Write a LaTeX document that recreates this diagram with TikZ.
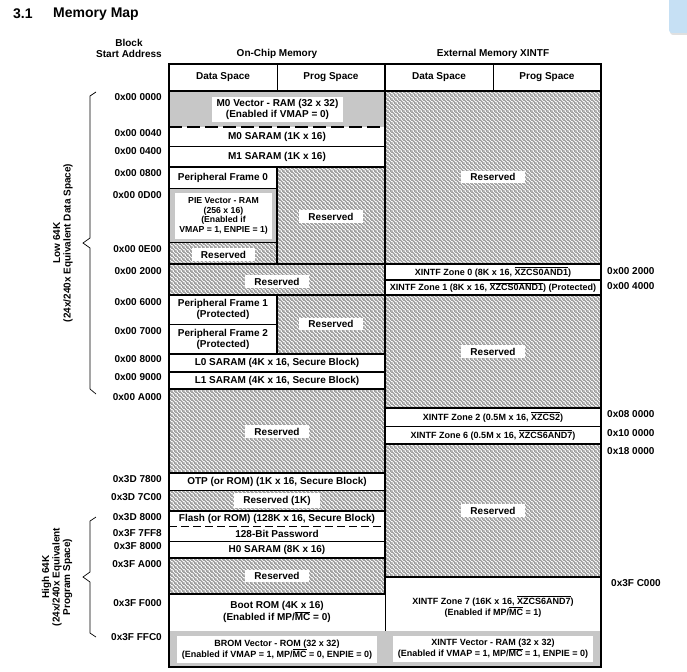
\documentclass[tikz,border=0pt]{standalone}
\usepackage{fontspec}
\setmainfont{Liberation Sans}
\usetikzlibrary{patterns}
\pgfdeclarepatternformonly{myhatch}{\pgfqpoint{0pt}{0pt}}{\pgfqpoint{4pt}{4pt}}{\pgfqpoint{4pt}{4pt}}{%
  \pgfsetlinewidth{1.4pt}%
  \pgfpathmoveto{\pgfqpoint{-1pt}{5pt}}\pgfpathlineto{\pgfqpoint{5pt}{-1pt}}%
  \pgfpathmoveto{\pgfqpoint{-1pt}{1pt}}\pgfpathlineto{\pgfqpoint{1pt}{-1pt}}%
  \pgfpathmoveto{\pgfqpoint{3pt}{5pt}}\pgfpathlineto{\pgfqpoint{5pt}{3pt}}%
  \pgfusepath{stroke}}
\newcommand\fa{\fontsize{10}{10.8}\selectfont\bfseries}
\newcommand\fb{\fontsize{8.7}{9.7}\selectfont\bfseries}
\newcommand\fc{\fontsize{9}{10.7}\selectfont\bfseries}
\newcommand\ftitle{\fontsize{14}{16}\selectfont\bfseries}
\newcommand\ovl[1]{$\overline{\hbox{#1}}$}
\definecolor{lblue}{HTML}{C6E0F4}
\begin{document}
\begin{tikzpicture}[x=1pt,y=-1pt,
  every node/.style={inner sep=0pt, font=\fa, align=center},
  hatch/.style={pattern=myhatch, pattern color=black!40},
  gfill/.style={fill=black!22},
  thk/.style={line width=1.5pt},
  thn/.style={line width=0.8pt},
  lbl/.style={fill=white, inner xsep=9pt, inner ysep=2.5pt},
  addr/.style={anchor=east},
  raddr/.style={anchor=west},
  brace/.style={line width=0.7pt},
  dsha/.style={line width=1.2pt, dash pattern=on 13pt off 5pt},
  dshb/.style={line width=1pt, dash pattern=on 8pt off 4pt}
]
\useasboundingbox (0,0) rectangle (687,671);
% corner tab
\fill[black!12, rounded corners=3pt] (670,-6) rectangle (692,35);
\fill[lblue, rounded corners=3pt] (669,-6) rectangle (692,33);
% title
\node[anchor=west, font=\ftitle] (num) at (13,14) {3.1};
\node[anchor=west, font=\ftitle] (ttl) at (53,14) {Memory Map};
% headings
\node (blk) at (129,48.5) {Block\\Start Address};
\node (onchip) at (277,54) {On-Chip Memory};
\node (ext) at (493,54) {External Memory XINTF};
\node (ds1) at (223,77.5) {Data Space};
\node (ps1) at (331,77.5) {Prog Space};
\node (ds2) at (439,77.5) {Data Space};
\node (ps2) at (547,77.5) {Prog Space};
% fills
\fill[gfill] (169,91) rectangle (385,127);
\path[hatch] (385,91) rectangle (601,264);
\fill[gfill] (169,188) rectangle (277,242);
\path[hatch] (169,242) rectangle (277,264);
\path[hatch] (277,167) rectangle (385,264);
\path[hatch] (169,264) rectangle (385,295);
\path[hatch] (277,295) rectangle (385,354);
\path[hatch] (385,295) rectangle (601,408);
\path[hatch] (169,389) rectangle (385,473);
\path[hatch] (385,444) rectangle (601,577);
\path[hatch] (169,490) rectangle (385,511);
\path[hatch] (169,558) rectangle (385,594);
\fill[gfill] (169,631) rectangle (601,667);
% lines
\draw[thk] (169,91) -- (601,91);
\draw[thn] (277,64) -- (277,91);
\draw[thn] (493,64) -- (493,91);
\draw[thk] (385,64) -- (385,594);
\draw[thn] (385,594) -- (385,631);
\draw[dsha] (169,127) -- (385,127);
\draw[thn] (169,146) -- (385,146);
\draw[thk] (169,167) -- (385,167);
\draw[thn] (169,188) -- (277,188);
\draw[thn] (169,242) -- (277,242);
\draw[thk] (277,167) -- (277,264);
\draw[thk] (169,264) -- (601,264);
\draw[thk] (169,295) -- (601,295);
\draw[thk] (277,295) -- (277,354);
\draw[thn] (169,324) -- (277,324);
\draw[thk] (169,354) -- (385,354);
\draw[thk] (169,372) -- (385,372);
\draw[thk] (169,389) -- (385,389);
\draw[thk] (169,473) -- (385,473);
\draw[thn] (169,490) -- (385,490);
\draw[thk] (169,511) -- (385,511);
\draw[dshb] (169,526) -- (385,526);
\draw[thn] (169,541) -- (385,541);
\draw[thk] (169,558) -- (385,558);
\draw[thk] (169,594) -- (385,594);
\draw[thk] (385,280) -- (601,280);
\draw[thk] (385,408) -- (601,408);
\draw[thn] (385,426) -- (601,426);
\draw[thk] (385,444) -- (601,444);
\draw[thk] (385,577) -- (601,577);
\draw[line width=2pt] (169,64) rectangle (601,667);
% on-chip texts
\node[fill=white, minimum width=131pt, minimum height=25pt] (m0v) at (277.5,109.5) {M0 Vector - RAM (32 x 32)\\(Enabled if VMAP = 0)};
\node (m0) at (277,136.5) {M0 SARAM (1K x 16)};
\node (m1) at (277,156.5) {M1 SARAM (1K x 16)};
\node (pf0) at (223,177.5) {Peripheral Frame 0};
\node[fill=white, minimum width=97pt, minimum height=46pt, font=\fb] (pie) at (223.5,216) {PIE Vector - RAM\\(256 x 16)\\(Enabled if\\VMAP = 1, ENPIE = 1)};
\node[lbl] (r1) at (223.5,254.5) {Reserved};
\node[lbl] (r2) at (331,216.5) {Reserved};
\node[lbl] (r3) at (277,281.5) {Reserved};
\node (pf1) at (223,309.7) {Peripheral Frame 1\\(Protected)};
\node (pf2) at (223,339.5) {Peripheral Frame 2\\(Protected)};
\node[lbl] (r4) at (331,324) {Reserved};
\node (l0) at (277,363) {L0 SARAM (4K x 16, Secure Block)};
\node (l1) at (277,380.5) {L1 SARAM (4K x 16, Secure Block)};
\node[lbl] (r5) at (277,431.5) {Reserved};
\node (otp) at (277,482) {OTP (or ROM) (1K x 16, Secure Block)};
\node[lbl] (r6) at (277,500.5) {Reserved (1K)};
\node (fl) at (277,518.5) {Flash (or ROM) (128K x 16, Secure Block)};
\node (pw) at (277,533.5) {128-Bit Password};
\node (h0) at (277,549.5) {H0 SARAM (8K x 16)};
\node[lbl] (r7) at (277,576) {Reserved};
\node (boot) at (277,612) {Boot ROM (4K x 16)\\(Enabled if MP/\ovl{MC} = 0)};
\node[fill=white, minimum width=200pt, minimum height=27pt, font=\fc] (brom) at (277,649.5) {BROM Vector - ROM (32 x 32)\\(Enabled if VMAP = 1, MP/\ovl{MC} = 0, ENPIE = 0)};
% external texts
\node[lbl] (x1) at (493,177) {Reserved};
\node[font=\fc] (z0) at (493,272) {XINTF Zone 0 (8K x 16, \ovl{XZCS0AND1})};
\node[font=\fc] (z1) at (493,287.5) {XINTF Zone 1 (8K x 16, \ovl{XZCS0AND1}) (Protected)};
\node[lbl] (x2) at (493,351.5) {Reserved};
\node[font=\fc] (z2) at (493,417) {XINTF Zone 2 (0.5M x 16, \ovl{XZCS2})};
\node[font=\fc] (z6) at (493,435) {XINTF Zone 6 (0.5M x 16, \ovl{XZCS6AND7})};
\node[lbl] (x3) at (493,510.5) {Reserved};
\node[font=\fc] (z7) at (493,606.5) {XINTF Zone 7 (16K x 16, \ovl{XZCS6AND7})\\(Enabled if MP/\ovl{MC} = 1)};
\node[fill=white, minimum width=200pt, minimum height=26pt, font=\fc] (xv) at (493,649) {XINTF Vector - RAM (32 x 32)\\(Enabled if VMAP = 1, MP/\ovl{MC} = 1, ENPIE = 0)};
% left addresses
\node[addr] (a1) at (162,97) {0x00 0000};
\node[addr] (a2) at (162,133) {0x00 0040};
\node[addr] (a3) at (162,151) {0x00 0400};
\node[addr] (a4) at (162,173) {0x00 0800};
\node[addr] (a5) at (162,195) {0x00 0D00};
\node[addr] (a6) at (162,249) {0x00 0E00};
\node[addr] (a7) at (162,271) {0x00 2000};
\node[addr] (a8) at (162,302) {0x00 6000};
\node[addr] (a9) at (162,331) {0x00 7000};
\node[addr] (a10) at (162,359) {0x00 8000};
\node[addr] (a11) at (162,377) {0x00 9000};
\node[addr] (a12) at (162,397) {0x00 A000};
\node[addr] (a13) at (162,479) {0x3D 7800};
\node[addr] (a14) at (162,497) {0x3D 7C00};
\node[addr] (a15) at (162,517) {0x3D 8000};
\node[addr] (a16) at (162,533) {0x3F 7FF8};
\node[addr] (a17) at (162,546) {0x3F 8000};
\node[addr] (a18) at (162,564) {0x3F A000};
\node[addr] (a19) at (162,603) {0x3F F000};
\node[addr] (a20) at (162,637) {0x3F FFC0};
% right addresses
\node[raddr] (b1) at (607,271) {0x00 2000};
\node[raddr] (b2) at (607,286) {0x00 4000};
\node[raddr] (b3) at (607,414) {0x08 0000};
\node[raddr] (b4) at (607,433) {0x10 0000};
\node[raddr] (b5) at (607,451) {0x18 0000};
\node[raddr] (b6) at (611,583) {0x3F C000};
% braces
\draw[brace] (96,92) -- (90,96) -- (90,238) -- (83,243) -- (90,248) -- (90,389) -- (96,394);
\draw[brace] (96,517) -- (90,521) -- (90,572) -- (83,577) -- (90,582) -- (90,633) -- (96,637);
\node[rotate=90, font=\fontsize{10}{10.5}\selectfont\bfseries] (low) at (63,243) {Low 64K\\(24x/240x Equivalent Data Space)};
\node[rotate=90, font=\fontsize{10}{10.5}\selectfont\bfseries] (high) at (57,577) {High 64K\\(24x/240x Equivalent\\Program Space)};
\end{tikzpicture}
\end{document}
